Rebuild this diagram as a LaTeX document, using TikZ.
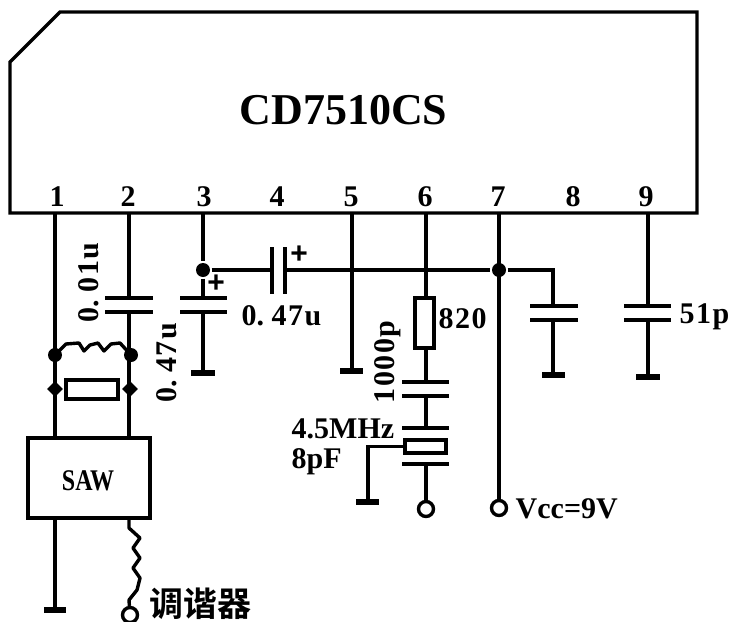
\documentclass[tikz,border=0pt]{standalone}
\usepackage{fontspec}
\usetikzlibrary{shapes.geometric}
\setmainfont{Liberation Serif}[BoldFont={Liberation Serif Bold}]
\newfontfamily\spfont{Liberation Serif}[LetterSpace=5,BoldFont={Liberation Serif Bold}]
\newfontfamily\plusfont{Liberation Mono}[BoldFont={Liberation Mono Bold}]
\newfontfamily\cjkfont{Noto Sans CJK SC}[BoldFont={Noto Sans CJK SC Bold}]
\newcommand{\wdot}{\makebox[.5em][l]{.}}
\begin{document}
\begin{tikzpicture}[x=1pt,y=-1pt,line width=3.4pt,
  wire/.style={draw=black,line width=3.4pt},
  plate/.style={draw=black,line width=3.8pt},
  gndbar/.style={draw=black,line width=6pt},
  box/.style={draw=black,line width=3.4pt,fill=white,inner sep=0pt,minimum width=#1},
  junc/.style={circle,fill=black,inner sep=0pt,minimum size=14pt},
  jund/.style={diamond,fill=black,inner sep=0pt,minimum size=17pt},
  term/.style={circle,draw=black,line width=3.4pt,fill=white,inner sep=0pt,minimum size=15pt},
  lab/.style={font=\bfseries\fontsize{30}{30}\selectfont,inner sep=0pt,text height=20pt,text depth=0pt},
  labsp/.style={font=\spfont\bfseries\fontsize{30}{30}\selectfont,inner sep=0pt,text height=20pt,text depth=0pt},
  title/.style={font=\bfseries\fontsize{44}{44}\selectfont,inner sep=0pt},
  plus/.style={font=\plusfont\bfseries\fontsize{30}{30}\selectfont,inner sep=0pt,text height=16pt,text depth=0pt}]
\useasboundingbox (0,0) rectangle (733,621);
\fill[white] (0,0) rectangle (733,621);
% IC
\draw[wire,line join=miter] (10,62) -- (60,12) -- (697,12) -- (697,213) -- (10,213) -- cycle;
\node[title] (ictitle) at (343.5,110) {CD7510CS};
\foreach \n/\x/\lx in {1/55/57,2/129/128,3/203/204,4/278/277,5/352/351,6/426/425,7/499/498,8/553/573,9/648/646}{
  \coordinate (p\n) at (\x,213);
  \node[lab] (pl\n) at (\lx,196) {\n};
}
% bus
\node[junc] (j3) at (203,270) {};
\node[junc] (j7) at (499,270) {};
\coordinate (c4a) at (272,270);
\coordinate (c4b) at (285,270);
\draw[wire] (p3) -- (j3);
\draw[wire] (j3) -- (c4a);
\draw[plate] (272,247) -- (272,294);
\draw[plate] (285,247) -- (285,294);
\coordinate (b8) at (553,270);
\coordinate (c8a) at (553,306);
\coordinate (c8b) at (553,320);
\coordinate (g8) at (553,375);
\draw[wire,line join=miter] (c4b) -- (j7) -- (b8) -- (c8a);
\draw[plate] (530,306) -- (578,306);
\draw[plate] (530,320) -- (578,320);
\draw[wire] (c8b) -- (g8);
\draw[gndbar] (542,375) -- (565,375);
\node[plus] (plus4) at (299,255) {+};
% pin 9
\coordinate (c9a) at (648,306);
\coordinate (c9b) at (648,320);
\coordinate (g9) at (648,377);
\draw[wire] (p9) -- (c9a);
\draw[plate] (624,306) -- (671,306);
\draw[plate] (624,320) -- (671,320);
\draw[wire] (c9b) -- (g9);
\draw[gndbar] (636,377) -- (660,377);
\node[labsp,anchor=west] (l51p) at (678,313) {51p};
% pin 5
\coordinate (g5) at (352,371);
\draw[wire] (p5) -- (g5);
\draw[gndbar] (340,371) -- (363,371);
% pin 6 chain
\node[box=19pt,minimum height=50pt] (r6) at (424.5,323) {};
\coordinate (r6t) at (426,298);
\coordinate (r6b) at (426,348);
\coordinate (c6a) at (426,382);
\coordinate (c6b) at (426,396);
\coordinate (x6a) at (426,428);
\coordinate (x6b) at (426,464);
\node[term] (t6) at (426,509) {};
\draw[wire] (p6) -- (r6t);
\draw[wire] (r6b) -- (c6a);
\draw[plate] (402,382) -- (449,382);
\draw[plate] (402,396) -- (449,396);
\draw[wire] (c6b) -- (x6a);
\draw[plate] (402,428) -- (449,428);
\node[box=41pt,minimum height=13pt] (x6) at (425.5,446.5) {};
\draw[plate] (402,464) -- (449,464);
\draw[wire] (x6b) -- (t6);
\coordinate (g6) at (368,502);
\draw[wire,line join=miter] (x6.west) -- (368,446.5) -- (g6);
\draw[gndbar] (356,502) -- (379,502);
\node[labsp,anchor=west] (l820) at (437,318) {820};
\node[labsp,rotate=90] (l1000p) at (384,362) {1000p};
\node[lab,anchor=west] (l45) at (290,428) {4.5MHz};
\node[lab,anchor=west] (l8pf) at (290,458) {8pF};
% pin 7
\node[term] (t7) at (499,508) {};
\draw[wire] (p7) -- (t7);
\node[lab,anchor=west] (lvcc) at (514,508) {Vcc=9V};
% 0.47u labels
\node[labsp,anchor=west] (l047b) at (240,315) {0\wdot 47u};
\node[labsp,rotate=90] (l047a) at (166.5,363) {0\wdot 47u};
\node[labsp,rotate=90] (l001) at (88,282.5) {0\wdot 01u};
% pin 3 cap
\coordinate (c3a) at (203,298);
\coordinate (c3b) at (203,312);
\coordinate (g3) at (203,373);
\draw[wire] (j3) -- (c3a);
\draw[plate] (180,298) -- (227,298);
\draw[plate] (180,312) -- (227,312);
\draw[wire] (c3b) -- (g3);
\draw[gndbar] (191,373) -- (215,373);
\node[plus] (plus3) at (216,284) {+};
% SAW
\node[box=122pt,minimum height=80pt] (saw) at (89,478) {};
\node[lab,xscale=.8,transform shape] (sawl) at (88,480) {SAW};
\coordinate (s1) at (55,438);
\coordinate (s2) at (129,438);
\coordinate (s1b) at (55,518);
\coordinate (s2b) at (129,518);
\draw[wire] (p1) -- (s1);
\coordinate (c2a) at (129,298);
\coordinate (c2b) at (129,312);
\draw[wire] (p2) -- (c2a);
\draw[plate] (105,298) -- (153,298);
\draw[plate] (105,312) -- (153,312);
\draw[wire] (c2b) -- (s2);
% L and R
\node[junc] (jl1) at (55,355) {};
\node[junc] (jl2) at (131,355) {};
\node[jund] (jr1) at (55,389) {};
\node[jund] (jr2) at (130,389) {};
\draw[wire,line join=round] (jl1.center) -- (66,344) -- (79,343) -- (84,351) -- (90,345) -- (98,343) -- (104,351) -- (111,344) -- (120,343) -- (jl2.center);
\node[box=52pt,minimum height=19pt] (r12) at (92,389.5) {};
\draw[wire] (jr1) -- (r12);
\draw[wire] (r12) -- (jr2);
% bottom
\coordinate (g1) at (55,610);
\draw[wire] (s1b) -- (g1);
\draw[gndbar] (44,610) -- (66,610);
\node[term] (t2) at (130,615) {};
\draw[wire,line join=round] (s2b) -- (129,528) -- (140,538) -- (133,548) -- (140,558) -- (133,568) -- (140,578) -- (137,590) -- (129,600) -- (t2);
\node[font=\cjkfont\bfseries\fontsize{34}{34}\selectfont,inner sep=0pt,anchor=west] (ltun) at (148,604) {调谐器};
\end{tikzpicture}
\end{document}
